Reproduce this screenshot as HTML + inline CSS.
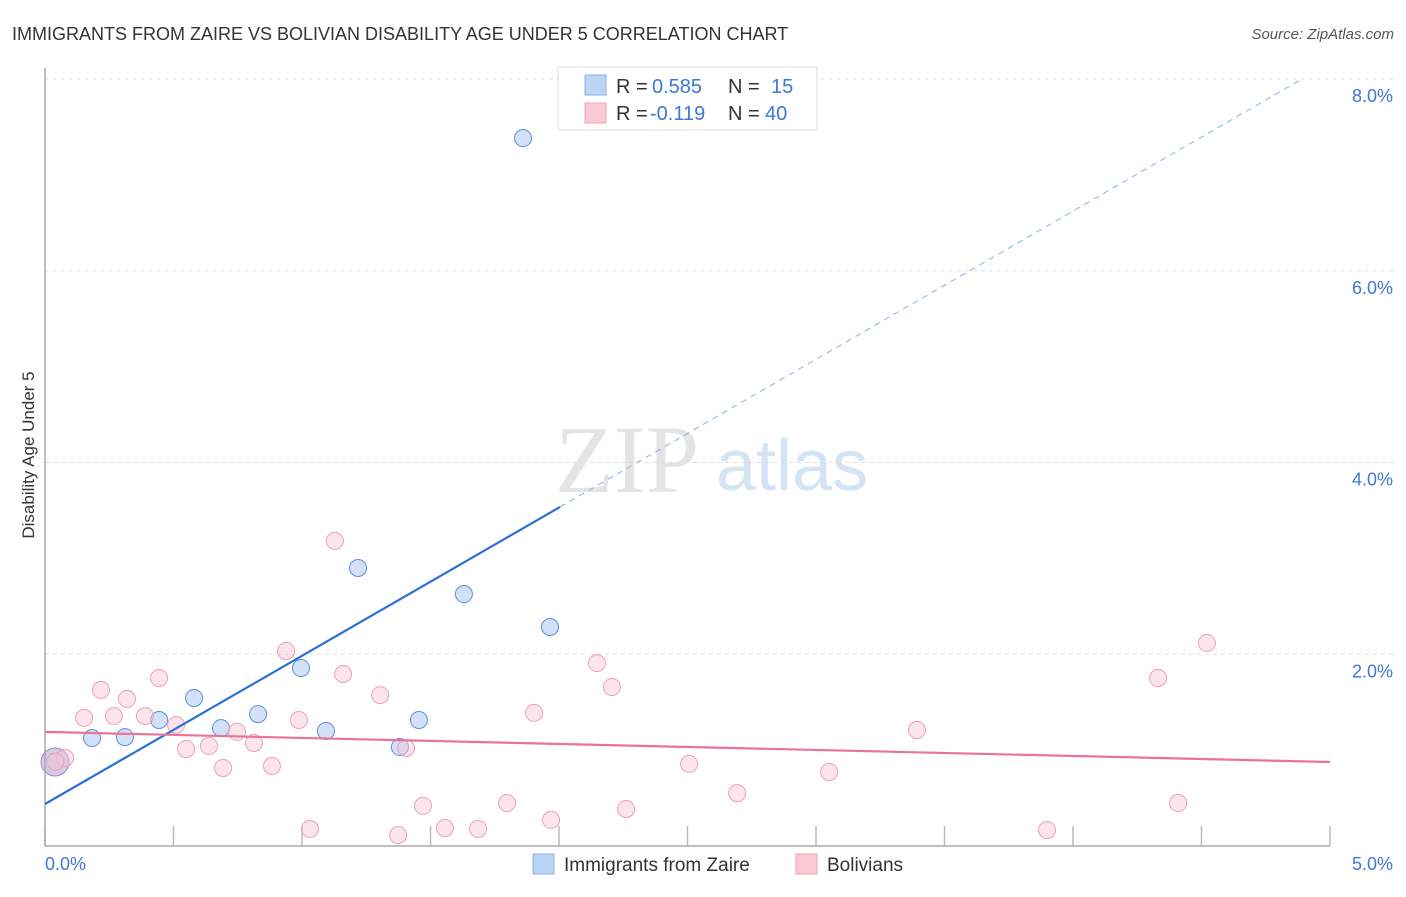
<!DOCTYPE html>
<html><head><meta charset="utf-8"><style>
body{margin:0;background:#fff;font-family:"Liberation Sans",sans-serif;}
</style></head><body>
<svg id="chart" width="1406" height="892" xmlns="http://www.w3.org/2000/svg" font-family="Liberation Sans, sans-serif">
<text x="12" y="40" font-size="18" fill="#333">IMMIGRANTS FROM ZAIRE VS BOLIVIAN DISABILITY AGE UNDER 5 CORRELATION CHART</text>
<text x="1394" y="39" font-size="15" fill="#555" font-style="italic" text-anchor="end">Source: ZipAtlas.com</text>
<g>
<text x="555" y="492" font-size="96" font-family="Liberation Serif, serif" fill="#e4e4e4">ZIP</text>
<text x="716" y="490" font-size="72" fill="#d6e3f3">atlas</text>
</g>
<g id="grid"></g>
<line x1="45" y1="68" x2="45" y2="846" stroke="#aaa" stroke-width="1.5"/>
<line x1="45" y1="846" x2="1330" y2="846" stroke="#aaa" stroke-width="1.5"/>
<text transform="translate(34,455) rotate(-90)" font-size="17" fill="#333" text-anchor="middle">Disability Age Under 5</text>
<text x="45" y="870" font-size="18" fill="#3b78d8">0.0%</text>
<text x="1393" y="870" font-size="18" fill="#3b78d8" text-anchor="end">5.0%</text>
<g id="marks"></g>
<g>
<rect x="558" y="67" width="259" height="63" fill="#fff" stroke="#ddd"/>
<rect x="585" y="75" width="21" height="20" fill="#bcd4f5" stroke="#8ab0e6"/>
<rect x="585" y="103" width="21" height="20" fill="#f9c9d6" stroke="#eea5bb"/>
<text x="616" y="93" font-size="20" fill="#333">R = <tspan x="652" fill="#3b78d8">0.585</tspan><tspan x="728">N = </tspan><tspan x="771" fill="#3b78d8">15</tspan></text>
<text x="616" y="120" font-size="20" fill="#333">R = <tspan x="650" fill="#3b78d8">-0.119</tspan><tspan x="728">N = </tspan><tspan x="765" fill="#3b78d8">40</tspan></text>
</g>
<g>
<rect x="533" y="854" width="21" height="20" fill="#bcd4f5" stroke="#8ab0e6"/>
<text x="564" y="871" font-size="19" fill="#333">Immigrants from Zaire</text>
<rect x="796" y="854" width="21" height="20" fill="#f9c9d6" stroke="#eea5bb"/>
<text x="827" y="871" font-size="19" fill="#333">Bolivians</text>
</g>
</svg>
<script>
const yTicks=[2,4,6,8];
const yTickLabels=["2.0%","4.0%","6.0%","8.0%"];
const xTickVals=[0,0.5,1,1.5,2,2.5,3,3.5,4,4.5,5];
const zaireX=[0.039,0.183,0.311,0.444,0.580,0.685,0.829,0.996,1.093,1.218,1.381,1.455,1.630,1.860,1.965];
const zaireY=[0.876,1.126,1.136,1.314,1.544,1.230,1.376,1.856,1.200,2.900,1.032,1.314,2.628,7.384,2.284];
const bolX=[0.078,0.152,0.218,0.268,0.319,0.389,0.444,0.510,0.549,0.638,0.693,0.747,0.813,0.883,0.938,0.988,1.031,1.128,1.160,1.304,1.374,1.405,1.471,1.556,1.685,1.798,1.903,1.969,2.148,2.206,2.261,2.506,2.693,3.051,3.393,3.899,4.331,4.409,4.521,0.040];
const bolY=[0.918,1.336,1.628,1.356,1.534,1.356,1.752,1.262,1.012,1.044,0.814,1.190,1.074,0.834,2.034,1.314,0.178,3.182,1.794,1.574,0.114,1.022,0.418,0.188,0.178,0.448,1.388,0.272,1.908,1.658,0.386,0.856,0.552,0.772,1.210,0.166,1.752,0.448,2.118,0.880];
const zaireTrend=[0.438,1.546]; // intercept, slope
const bolTrend=[1.19,-0.0628];
const NS="http://www.w3.org/2000/svg";
const X=v=>45+v*257, Y=v=>846-v*95.875;
function mk(tag,a,parent){const e=document.createElementNS(NS,tag);for(const k in a)e.setAttribute(k,a[k]);parent.appendChild(e);return e;}
const grid=document.getElementById('grid'), marks=document.getElementById('marks');
yTicks.forEach((t,i)=>{
 const l=mk('line',{x1:45,x2:1393,y1:Y(t),y2:Y(t),stroke:'#ddd','stroke-dasharray':'4,4'},grid);
 
 
 const tx=mk('text',{x:1393,y:Y(t)+23,'font-size':18,fill:'#3b78d8','text-anchor':'end'},grid);
 tx.textContent=yTickLabels[i];
 
 
});
xTickVals.forEach(v=>{
 const l=mk('line',{x1:X(v),x2:X(v),y1:826,y2:846,stroke:'#bbb','stroke-width':1.5},grid);
 
 
});
zaireX.forEach((x,i)=>{
 const big=i===0;
 const c=mk('circle',{cx:X(x),cy:Y(zaireY[i]),r:big?14:8.5,fill:big?'rgba(170,160,210,0.55)':'rgba(180,205,242,0.6)',stroke:big?'#a08cc0':'#5b8fd8','stroke-width':1},marks);
 
 
});
bolX.forEach((x,i)=>{
 const c=mk('circle',{cx:X(x),cy:Y(bolY[i]),r:8.5,fill:'rgba(249,196,212,0.45)',stroke:'#eca0b8','stroke-width':1},marks);
 
 
});
const zs=mk('line',{x1:X(0),y1:Y(zaireTrend[0]),x2:X(2.004),y2:Y(zaireTrend[0]+zaireTrend[1]*2.004),stroke:'#2b6fd6','stroke-width':2.2},marks);


const zd=mk('line',{x1:X(2.004),y1:Y(zaireTrend[0]+zaireTrend[1]*2.004),x2:X(4.88),y2:Y(zaireTrend[0]+zaireTrend[1]*4.88),stroke:'#8ab0e6','stroke-width':1,'stroke-dasharray':'6,5'},marks);


const bl=mk('line',{x1:X(0),y1:Y(bolTrend[0]),x2:X(5),y2:Y(bolTrend[0]+bolTrend[1]*5),stroke:'#e8739a','stroke-width':2.2},marks);


</script>
</body></html>
